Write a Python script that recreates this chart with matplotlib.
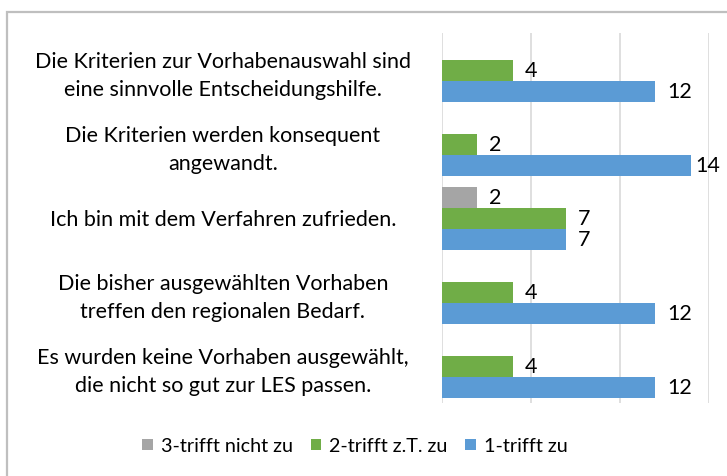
import matplotlib
matplotlib.use("Agg")
import matplotlib.pyplot as plt
from matplotlib.patches import Rectangle, Patch
import numpy as np

categories = [
    "Die Kriterien zur Vorhabenauswahl sind\neine sinnvolle Entscheidungshilfe.",
    "Die Kriterien werden konsequent\nangewandt.",
    "Ich bin mit dem Verfahren zufrieden.",
    "Die bisher ausgewählten Vorhaben\ntreffen den regionalen Bedarf.",
    "Es wurden keine Vorhaben ausgewählt,\ndie nicht so gut zur LES passen.",
]
series_names = ["3-trifft nicht zu", "2-trifft z.T. zu", "1-trifft zu"]
values_3 = [None, None, 2, None, None]
values_2 = [4, 2, 7, 4, 4]
values_1 = [12, 14, 7, 12, 12]
colors = ["#A5A5A5", "#70AD47", "#5B9BD5"]

FONT = "Lato"
FS = 15.5
W, H = 727, 476
fig = plt.figure(figsize=(W / 100, H / 100), dpi=100)
ax = fig.add_axes([441.7 / W, 1 - 403 / H, (708.7 - 441.7) / W, (403 - 33) / H])

y = np.arange(len(categories))
h = 21 / 74
offsets = [-h, 0, h]
vmax = max(values_1)
for vals, off, col in zip([values_3, values_2, values_1], offsets, colors):
    for yi, v in zip(y, vals):
        if v is None:
            continue
        ax.barh(yi + off, v, height=h, color=col, zorder=3)
        dx = 3 if v == vmax else 8.5
        ax.annotate(str(v), (v, yi + off), xytext=(dx, -1), textcoords="offset points",
                    va="center", ha="left", fontsize=FS, family=FONT, color="#000000")

ax.set_xlim(0, 15)
ax.set_ylim(len(categories) - 0.5, -0.5)
ax.set_xticks([0, 5, 10, 15])
ax.set_xticklabels([])
ax.xaxis.grid(True, color="#D9D9D9", linewidth=1.2, zorder=0)
ax.tick_params(axis="both", length=0)
ax.set_yticks(y)
ax.set_yticklabels(categories, fontsize=FS, family=FONT, ha="center", multialignment="center",
                   linespacing=1.5)
ax.tick_params(axis="y", pad=157.5)
for s in ax.spines.values():
    s.set_visible(False)

# figure border (top and left visible)
fig.patches.append(Rectangle((7 / W, 0 - 0.1), 1.2, 1 - 12 / H + 0.1, transform=fig.transFigure,
                             fill=False, edgecolor="#BFBFBF", linewidth=1.6))

handles = [Patch(facecolor=c, edgecolor="none") for c in colors]
fig.legend(handles, series_names, loc="center", bbox_to_anchor=(355 / W, 1 - 446 / H), ncol=3,
           frameon=False, prop={"family": FONT, "size": 14.2}, handlelength=0.55, handleheight=0.55,
           handletextpad=0.4, columnspacing=0.9)

fig.savefig("out.png", dpi=100)
